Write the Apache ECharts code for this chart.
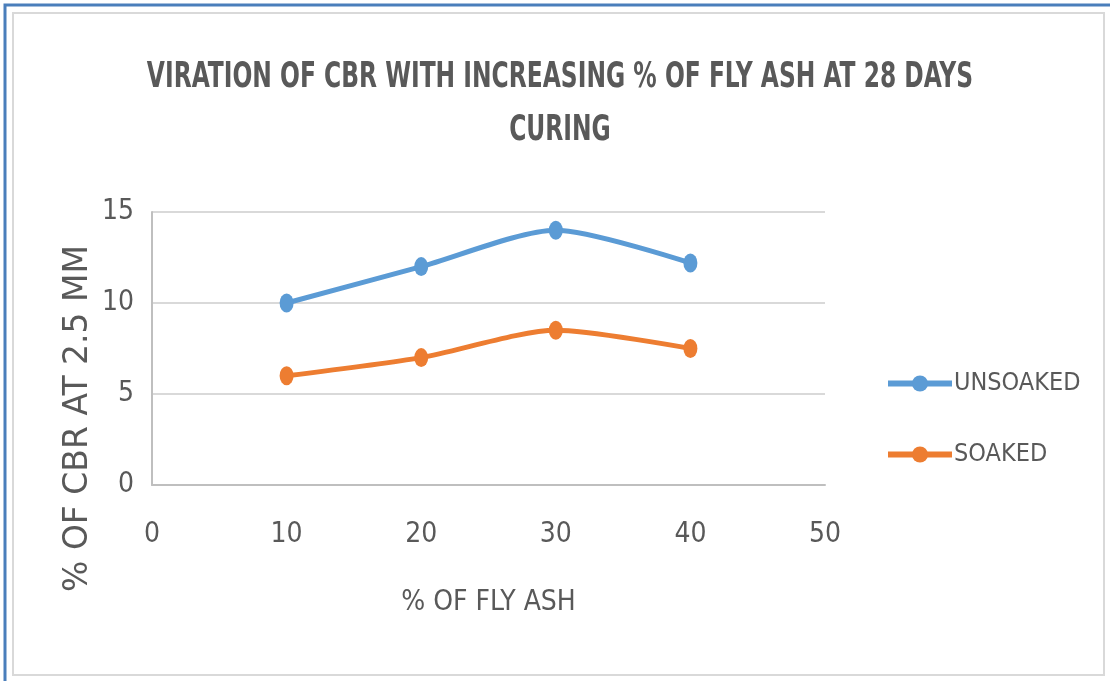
<!DOCTYPE html>
<html>
<head>
<meta charset="utf-8">
<script src="https://cdn.jsdelivr.net/npm/echarts@6/dist/echarts.min.js"></script>
<style>
  html, body { margin: 0; padding: 0; background: #fff; }
  #chart { width: 1110px; height: 681px; }
</style>
</head>
<body>
<div id="chart"></div>
<script>
// 数据
const flyAsh = [10, 20, 30, 40];           // % of fly ash
const unsoaked = [10, 12, 14, 12.2];       // CBR unsoaked
const soaked = [6, 7, 8.5, 7.5];           // CBR soaked
const xTicks = [0, 10, 20, 30, 40, 50];
const yTicks = [0, 5, 10, 15];
const titleLines = ['VIRATION OF CBR WITH INCREASING % OF FLY ASH AT 28 DAYS', 'CURING'];

const narrow = '"DejaVu Sans Condensed", sans-serif';
const grey = '#595959';

const myChart = echarts.init(document.getElementById('chart'));

// 标题用 graphic 文字，纵向拉伸一点，接近原图的窄体字
const titleGraphics = titleLines.map((t, i) => ({
  type: 'text',
  x: 560,
  y: 78 + i * 53,
  scaleY: 1.35,
  style: {
    text: t,
    font: 'bold 26px "DejaVu Sans Condensed", sans-serif',
    fill: grey,
    textAlign: 'center',
    textVerticalAlign: 'middle'
  }
}));

const option = {
  backgroundColor: '#fff',
  color: ['#5b9bd5', '#ed7d31'],
  grid: {
    left: 152,
    right: 285,
    top: 212,
    bottom: 196
  },
  xAxis: {
    type: 'value',
    min: xTicks[0],
    max: xTicks[xTicks.length - 1],
    interval: 10,
    name: '% OF FLY ASH',
    nameLocation: 'middle',
    nameGap: 104,
    nameTextStyle: { fontFamily: narrow, fontSize: 28, color: grey },
    axisLine: { lineStyle: { color: '#bfbfbf', width: 2 } },
    axisTick: { show: false },
    splitLine: { show: false },
    axisLabel: { fontFamily: narrow, fontSize: 28, color: grey, margin: 36 }
  },
  yAxis: {
    type: 'value',
    min: yTicks[0],
    max: yTicks[yTicks.length - 1],
    interval: 5,
    axisLine: { show: true, lineStyle: { color: '#bfbfbf', width: 2 } },
    axisTick: { show: false },
    splitLine: { lineStyle: { color: '#d9d9d9', width: 2 } },
    axisLabel: { fontFamily: narrow, fontSize: 28, color: grey, margin: 18 }
  },
  legend: {
    orient: 'vertical',
    left: 885,
    top: 371,
    padding: 0,
    itemGap: 46,
    itemWidth: 64,
    itemHeight: 20,
    lineStyle: { width: 6 },
    textStyle: { fontFamily: narrow, fontSize: 25, color: grey, padding: [0, 0, 0, -3] },
    data: ['UNSOAKED', 'SOAKED']
  },
  graphic: titleGraphics.concat([
    {
      type: 'text',
      left: 62,
      top: 245,
      rotation: Math.PI / 2,
      style: {
        text: '% OF CBR AT 2.5 MM',
        font: '33px "DejaVu Sans", sans-serif',
        fill: grey
      }
    },
    {
      type: 'rect',
      shape: { x: 13, y: 13, width: 1091, height: 662 },
      style: { fill: 'none', stroke: '#d9d9d9', lineWidth: 2 },
      silent: true
    },
    {
      type: 'polyline',
      shape: { points: [[5, 681], [5, 5], [1110, 5]] },
      style: { fill: 'none', stroke: '#4a7ebb', lineWidth: 3 },
      silent: true
    }
  ]),
  series: [
    {
      name: 'UNSOAKED',
      type: 'line',
      smooth: 0.25,
      symbol: 'circle',
      symbolSize: [14, 19],
      lineStyle: { width: 5 },
      data: flyAsh.map((x, i) => [x, unsoaked[i]])
    },
    {
      name: 'SOAKED',
      type: 'line',
      smooth: 0.25,
      symbol: 'circle',
      symbolSize: [14, 19],
      lineStyle: { width: 5 },
      data: flyAsh.map((x, i) => [x, soaked[i]])
    }
  ]
};

myChart.setOption(option);
</script>
</body>
</html>
